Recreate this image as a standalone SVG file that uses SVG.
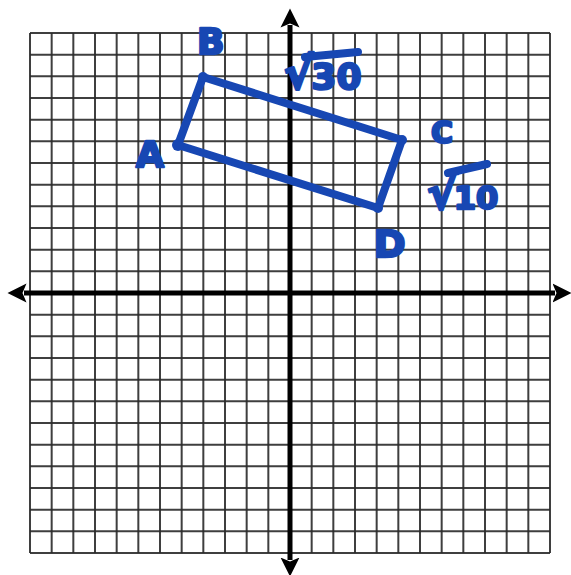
<svg xmlns="http://www.w3.org/2000/svg" width="571" height="575" viewBox="0 0 571 575">
<style>
.grid{stroke:#2a2a2a;stroke-width:2;fill:none;opacity:0.9}
.axis{stroke:#000;stroke-width:5;fill:none}
.ink{stroke:#1747b3;stroke-width:8;fill:none;stroke-linecap:round;stroke-linejoin:round}
.lbl{font-family:"DejaVu Sans",sans-serif;font-weight:bold;fill:#1747b3;stroke:#1747b3;stroke-width:2.5;stroke-linejoin:round}
</style>
<defs>
<marker id="ah" markerWidth="4" markerHeight="4" refX="0.5" refY="2" orient="auto" markerUnits="strokeWidth">
<path d="M0,0.1 L3.8,2 L0,3.9 L0.8,2 Z" fill="#000"/>
</marker>
</defs>
<rect width="571" height="575" fill="#fff"/>
<g id="grid">
<path class="grid" d="M30,33V553M51.67,33V553M73.33,33V553M95,33V553M116.67,33V553M138.33,33V553M160,33V553M181.67,33V553M203.33,33V553M225,33V553M246.67,33V553M268.33,33V553M311.67,33V553M333.33,33V553M355,33V553M376.67,33V553M398.33,33V553M420,33V553M441.67,33V553M463.33,33V553M485,33V553M506.67,33V553M528.33,33V553M550,33V553"/>
<path class="grid" d="M30,33H550M30,54.67H550M30,76.33H550M30,98H550M30,119.67H550M30,141.33H550M30,163H550M30,184.67H550M30,206.33H550M30,228H550M30,249.67H550M30,271.33H550M30,314.67H550M30,336.33H550M30,358H550M30,379.67H550M30,401.33H550M30,423H550M30,444.67H550M30,466.33H550M30,488H550M30,509.67H550M30,531.33H550M30,553H550"/>
</g>
<g id="axes">
<line class="axis" x1="290" y1="293" x2="555" y2="293" marker-end="url(#ah)"/>
<line class="axis" x1="290" y1="293" x2="24" y2="293" marker-end="url(#ah)"/>
<line class="axis" x1="290" y1="293" x2="290" y2="25" marker-end="url(#ah)"/>
<line class="axis" x1="290" y1="293" x2="290" y2="560" marker-end="url(#ah)"/>
</g>
<g id="connectors">
<polygon class="ink" points="203,77 402,140 378,208 178,145"/>
</g>
<g id="node-A"><circle cx="178" cy="145" r="6" fill="#1747b3"/><text class="lbl" x="136" y="167" font-size="36">A</text></g>
<g id="node-B"><circle cx="203" cy="77" r="5" fill="#1747b3"/><text class="lbl" x="197" y="54" font-size="36">B</text></g>
<g id="node-C"><circle cx="402" cy="140" r="5" fill="#1747b3"/><text class="lbl" x="431" y="143" font-size="30">C</text></g>
<g id="node-D"><circle cx="378" cy="208" r="5" fill="#1747b3"/><text class="lbl" x="374" y="257" font-size="38">D</text></g>
<g id="label-sqrt30"><text class="lbl" x="284" y="89"><tspan font-size="44">√</tspan><tspan font-size="36" dx="-2">30</tspan></text><line class="ink" stroke-width="6" x1="305" y1="57" x2="358" y2="52"/></g>
<g id="label-sqrt10"><text class="lbl" x="427" y="209"><tspan font-size="46">√</tspan><tspan font-size="32" dx="-4">10</tspan></text><line class="ink" stroke-width="6" x1="448" y1="173" x2="487" y2="164"/></g>
</svg>
